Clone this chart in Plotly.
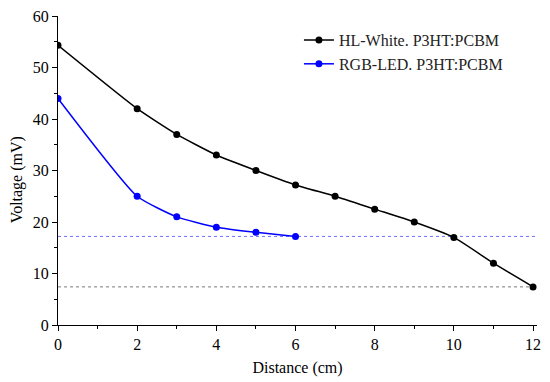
import plotly.graph_objects as go

dist_white = [0, 2, 3, 4, 5, 6, 7, 8, 9, 10, 11, 12]
volt_white = [54.3, 42, 37, 33, 30, 27.2, 25, 22.5, 20, 17, 12, 7.4]
dist_rgb = [0, 2, 3, 4, 5, 6]
volt_rgb = [44, 25, 21, 19, 18, 17.2]
ref_levels = [17.2, 7.4]
ref_colors = ["#6f6fff", "#7a7a7a"]
x_ticks = [0, 2, 4, 6, 8, 10, 12]
y_ticks = [0, 10, 20, 30, 40, 50, 60]

font = "Liberation Serif, Times New Roman, serif"
fig = go.Figure()
for lvl, c in zip(ref_levels, ref_colors):
    fig.add_trace(go.Scatter(x=[0, 12.1], y=[lvl, lvl], mode="lines",
                             line=dict(color=c, width=1, dash="dot"),
                             showlegend=False, hoverinfo="skip"))
fig.add_trace(go.Scatter(x=dist_white, y=volt_white, mode="lines+markers",
                         name="HL-White. P3HT:PCBM",
                         line=dict(color="black", width=1.5, shape="spline", smoothing=0.5),
                         marker=dict(color="black", size=7)))
fig.add_trace(go.Scatter(x=dist_rgb, y=volt_rgb, mode="lines+markers",
                         name="RGB-LED. P3HT:PCBM",
                         line=dict(color="#0000ff", width=1.5, shape="spline", smoothing=0.5),
                         marker=dict(color="#0000ff", size=7)))

axis_common = dict(showgrid=False, zeroline=False, showline=True, linecolor="black",
                   linewidth=1, ticks="outside", ticklen=5, tickcolor="black",
                   automargin=False, ticklabeloverflow="allow",
                   tickfont=dict(family=font, size=16, color="black"))
fig.update_xaxes(range=[0, 12.1], tickvals=x_ticks,
                 minor=dict(dtick=1, ticks="outside", ticklen=3, tickcolor="black"),
                 title=dict(text="Distance (cm)", font=dict(family=font, size=16, color="black"), standoff=9),
                 **axis_common)
fig.update_yaxes(range=[0, 60], tickvals=y_ticks,
                 minor=dict(dtick=5, ticks="outside", ticklen=3, tickcolor="black"),
                 **axis_common)
fig.add_annotation(text="Voltage (mV)", xref="paper", yref="paper", x=-0.085, y=0.469,
                   xanchor="center", yanchor="middle", textangle=-90, showarrow=False,
                   font=dict(family=font, size=16, color="black"))
fig.update_layout(width=542, height=374, plot_bgcolor="white", paper_bgcolor="white",
                  margin=dict(l=50, r=13, t=8, b=57),
                  font=dict(family=font),
                  legend=dict(x=0.503, y=0.977, xanchor="left", yanchor="top",
                              font=dict(family=font, size=16, color="#222"),
                              bgcolor="rgba(0,0,0,0)", tracegroupgap=0, itemwidth=30))
fig.write_html("out.html")
